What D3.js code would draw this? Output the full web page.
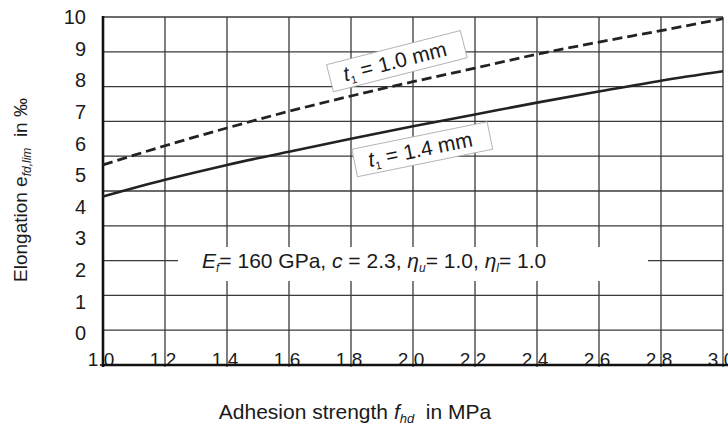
<!DOCTYPE html>
<head>
  <meta charset="utf-8">
  <script src="https://d3js.org/d3.v7.min.js"></script>
  <style>
    body { margin: 0; background: #fff; }
    text { font-family: "Liberation Sans", Arial, sans-serif; fill: #1a1a1a; }
    .grid line { stroke: #3a3a3a; stroke-width: 1.3px; }
  </style>
</head>
<body>
<div id="chart"></div>
<script>
var width = 728, height = 427;

// data
var adhesion = [1.0, 1.2, 1.4, 1.6, 1.8, 2.0, 2.2, 2.4, 2.6, 2.8, 3.0];
var elong14 = [4.84, 5.32, 5.75, 6.13, 6.50, 6.86, 7.20, 7.54, 7.86, 8.17, 8.44];
var elong10 = [5.75, 6.30, 6.81, 7.29, 7.73, 8.14, 8.53, 8.93, 9.28, 9.61, 9.95];
var xTicks = [1.0, 1.2, 1.4, 1.6, 1.8, 2.0, 2.2, 2.4, 2.6, 2.8, 3.0];
var yTicks = [0, 1, 2, 3, 4, 5, 6, 7, 8, 9, 10];

var x = d3.scaleLinear().domain([1.0, 3.0]).range([103, 723]);
var y = d3.scaleLinear().domain([0, 10]).range([365, 17]);
// the printed tick numbers in the original sit a bit above the gridlines
var yLab = d3.scaleLinear().domain([0, 10]).range([333, 17]);

var svg = d3.select("#chart").append("svg")
  .attr("width", width)
  .attr("height", height);

// tick labels (drawn first, gridlines run over them)
svg.append("g").selectAll("text")
  .data(yTicks).enter().append("text")
  .attr("x", 86)
  .attr("y", d => yLab(d))
  .attr("dy", "0.36em")
  .attr("text-anchor", "end")
  .style("font-size", "20px")
  .text(d => d);

svg.append("g").selectAll("text")
  .data(xTicks).enter().append("text")
  .attr("x", d => x(d) - 2)
  .attr("y", 366)
  .attr("text-anchor", "middle")
  .style("font-size", "19px")
  .text(d => d3.format(".1f")(d));

// grid
var grid = svg.append("g").attr("class", "grid");
grid.selectAll(".h").data(yTicks).enter().append("line")
  .attr("x1", x(1.0)).attr("x2", x(3.0))
  .attr("y1", d => y(d)).attr("y2", d => y(d));
grid.selectAll(".v").data(xTicks).enter().append("line")
  .attr("x1", d => x(d)).attr("x2", d => x(d))
  .attr("y1", y(10)).attr("y2", y(0) + 2);

// heavier left and bottom frame
svg.append("line").attr("x1", x(1.0)).attr("x2", x(1.0))
  .attr("y1", y(10) - 1).attr("y2", y(0) + 2)
  .attr("stroke", "#111").attr("stroke-width", 2.6);
svg.append("line").attr("x1", x(1.0) - 1).attr("x2", x(3.0) + 5)
  .attr("y1", y(0)).attr("y2", y(0))
  .attr("stroke", "#111").attr("stroke-width", 2.6);

// parameter note box
var noteG = svg.append("g");
noteG.append("rect")
  .attr("x", 178).attr("y", 247)
  .attr("width", 470).attr("height", 34)
  .attr("fill", "#fff");
var note = noteG.append("text")
  .attr("x", 202).attr("y", 268)
  .style("font-size", "21px");
note.append("tspan").style("font-style", "italic").text("E");
note.append("tspan").style("font-style", "italic").style("font-size", "12px").attr("dy", 4).text("f");
note.append("tspan").attr("dy", -4).text("= 160 GPa, ");
note.append("tspan").style("font-style", "italic").text("c");
note.append("tspan").text(" = 2.3, ");
note.append("tspan").style("font-style", "italic").text("\u03b7");
note.append("tspan").style("font-style", "italic").style("font-size", "12px").attr("dy", 4).text("u");
note.append("tspan").attr("dy", -4).text("= 1.0, ");
note.append("tspan").style("font-style", "italic").text("\u03b7");
note.append("tspan").style("font-style", "italic").style("font-size", "12px").attr("dy", 4).text("l");
note.append("tspan").attr("dy", -4).text("= 1.0");

// curves
var line = d3.line().curve(d3.curveMonotoneX);
svg.append("path")
  .attr("d", line(adhesion.map((a, i) => [x(a), y(elong14[i])])))
  .attr("fill", "none").attr("stroke", "#222").attr("stroke-width", 2.6);
svg.append("path")
  .attr("d", line(adhesion.map((a, i) => [x(a), y(elong10[i])])))
  .attr("fill", "none").attr("stroke", "#222").attr("stroke-width", 2.8)
  .attr("stroke-dasharray", "10,5");

// curve labels
var labels = [
  {t: "1.0", fx: 1.948, e: 8.73, angle: -14.3},
  {t: "1.4", fx: 2.030, e: 6.20, angle: -11.5}
];
var lab = svg.append("g").selectAll("g")
  .data(labels).enter().append("g")
  .attr("transform", d => "translate(" + x(d.fx) + "," + y(d.e) + ") rotate(" + d.angle + ")");
lab.append("rect")
  .attr("x", -69).attr("y", -14)
  .attr("width", 138).attr("height", 28)
  .attr("fill", "#fff").attr("stroke", "#a8a8a8").attr("stroke-width", 0.8);
var lt = lab.append("text")
  .attr("x", -2).attr("y", 7)
  .attr("text-anchor", "middle")
  .style("font-size", "21px");
lt.append("tspan").style("font-style", "italic").text("t");
lt.append("tspan").style("font-size", "11px").attr("dy", 4).text("1");
lt.append("tspan").attr("dy", -4).text(d => " = " + d.t + " mm");

// axis titles
var xt = svg.append("text")
  .attr("x", 355).attr("y", 419)
  .attr("text-anchor", "middle")
  .style("font-size", "21px");
xt.append("tspan").text("Adhesion strength ");
xt.append("tspan").style("font-style", "italic").text("f");
xt.append("tspan").style("font-style", "italic").style("font-size", "13px").attr("dy", 4).text("hd");
xt.append("tspan").attr("dy", -4).text("\u00a0 in MPa");

var yt = svg.append("text")
  .attr("transform", "translate(27,190) rotate(-90)")
  .attr("text-anchor", "middle")
  .style("font-size", "19px");
yt.append("tspan").text("Elongation e");
yt.append("tspan").style("font-style", "italic").style("font-size", "12px").attr("dy", 4).text("fd,lim");
yt.append("tspan").attr("dy", -4).text("\u00a0 in \u2030");
</script>
</body>
</html>
